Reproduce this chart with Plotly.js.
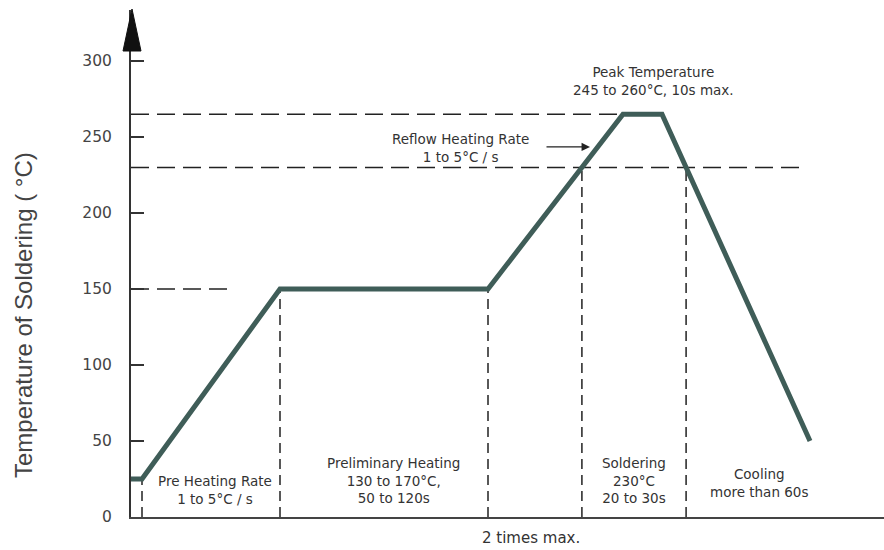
<!DOCTYPE html>
<html>
<head>
<meta charset="utf-8">
<script src="https://cdn.plot.ly/plotly-3.0.1.min.js"></script>
<style>html,body{margin:0;padding:0;background:#fff;}#chart{width:884px;height:550px;}</style>
</head>
<body>
<div id="chart"></div>
<script>
// Reflow soldering profile (schematic time axis, arbitrary units)
const time = [0, 11, 149, 357, 492, 531, 679];
const temperature = [25, 25, 150, 150, 265, 265, 50];

// reference levels (°C) and how far their dashed guide runs along the time axis
const refLevels = [150, 230, 265];
const refEnds = [96, 674, 492];

const yTicks = [0, 50, 100, 150, 200, 250, 300];

const zoneLabels = [
  "Pre Heating Rate<br>1 to 5°C / s",
  "Preliminary Heating<br>130 to 170°C,<br>50 to 120s",
  "Soldering<br>230°C<br>20 to 30s",
  "Cooling<br>more than 60s"
];
const zoneX = [84, 262, 503, 628];
const zoneY = [17.8, 23.7, 24.3, 22.4];

const reflowLabel = "Reflow Heating Rate<br>1 to 5°C / s";
const peakLabel = "Peak Temperature<br>245 to 260°C, 10s max.";
const xLabel = "2 times max.";
const yLabel = "Temperature of Soldering ( °C)";

// crossings of the profile with a temperature level
function crossings(level) {
  const out = [];
  for (let i = 0; i < time.length - 1; i++) {
    const a = temperature[i], b = temperature[i + 1];
    if (a !== b && (level - a) * (level - b) <= 0) {
      out.push(time[i] + (level - a) / (b - a) * (time[i + 1] - time[i]));
    }
  }
  return out;
}

const dashColor = "#222";
const traces = [];

// horizontal dashed guides
refLevels.forEach((lv, i) => {
  traces.push({
    x: [0, refEnds[i]], y: [lv, lv], mode: "lines", hoverinfo: "skip",
    line: {color: dashColor, width: 1.5, dash: "18px,8px"}, showlegend: false
  });
});

// vertical dashed guides: end of start flat, start/end of preheat plateau, 230°C crossings
const vGuides = [
  [time[1], temperature[1]],
  [time[2], temperature[2]],
  [time[3], temperature[3]]
];
crossings(230).forEach(x => vGuides.push([x, 230]));
vGuides.forEach(g => {
  traces.push({
    x: [g[0], g[0]], y: [0, g[1]], mode: "lines", hoverinfo: "skip",
    line: {color: dashColor, width: 1.5, dash: "10px,6px"}, showlegend: false
  });
});

// profile
traces.push({
  x: time, y: temperature, mode: "lines",
  line: {color: "#3f5d58", width: 5},
  showlegend: false
});

const textFont = {family: "DejaVu Sans, Arial, sans-serif", size: 13.5, color: "#333"};

const W = 884, H = 550, mL = 131, mR = 0, mT = 10, mB = 33;
const plotW = W - mL - mR, plotH = H - mT - mB;
const px = v => (v - mL) / plotW;        // pixel x -> paper
const py = v => (H - mB - v) / plotH;    // pixel y -> paper

const annotations = zoneLabels.map((t, i) => ({
  x: zoneX[i], y: zoneY[i], xref: "x", yref: "y", text: t, showarrow: false,
  font: textFont, align: "center", bgcolor: "rgba(255,255,255,0.9)"
}));

annotations.push({
  x: 329, y: 243, xref: "x", yref: "y", text: reflowLabel, showarrow: false,
  font: textFont, align: "center"
});
annotations.push({
  x: 459, y: 243.5, xref: "x", yref: "y", ax: 414, ay: 243.5, axref: "x", ayref: "y",
  text: "", showarrow: true, arrowhead: 2, arrowsize: 1.3, arrowwidth: 1.3, arrowcolor: "#222"
});
annotations.push({
  x: 522, y: 287, xref: "x", yref: "y", text: peakLabel, showarrow: false,
  font: textFont, align: "center"
});
annotations.push({
  x: 400, y: 0, xref: "x", yref: "paper", yanchor: "top", yshift: -10,
  text: xLabel, showarrow: false,
  font: {family: "DejaVu Sans, Arial, sans-serif", size: 15, color: "#333"}
});
// y-axis title
annotations.push({
  x: px(23), y: py(315), xref: "paper", yref: "paper", textangle: -90,
  xanchor: "center", yanchor: "middle", text: yLabel, showarrow: false,
  font: {family: "Liberation Sans, Arial, sans-serif", size: 24, color: "#444"}
});

const layout = {
  width: W, height: H,
  margin: {l: mL, r: mR, t: mT, b: mB, pad: 0},
  paper_bgcolor: "#fff", plot_bgcolor: "#fff",
  showlegend: false,
  xaxis: {
    range: [0, plotW], showgrid: false, zeroline: false, showticklabels: false,
    ticks: "", showline: true, linecolor: "#444", linewidth: 2, fixedrange: true
  },
  yaxis: {
    range: [0, plotH / 1.52], showgrid: false, zeroline: false,
    tickvals: yTicks, ticktext: yTicks.map(String),
    ticks: "inside", ticklen: 13, tickwidth: 1.5, tickcolor: "#333",
    ticklabelstandoff: 14,
    tickfont: {family: "DejaVu Sans, Arial, sans-serif", size: 15.5, color: "#444"},
    showline: true, linecolor: "#333", linewidth: 2, fixedrange: true
  },
  shapes: [{
    type: "path", xref: "paper", yref: "paper", layer: "above",
    path: "M " + px(123) + " " + py(51) + " L " + px(132) + " " + py(9) +
          " L " + px(141) + " " + py(51) + " Z",
    fillcolor: "#111", line: {color: "#111", width: 1}
  }],
  annotations: annotations
};

Plotly.newPlot("chart", traces, layout, {displayModeBar: false, staticPlot: true});
</script>
</body>
</html>
